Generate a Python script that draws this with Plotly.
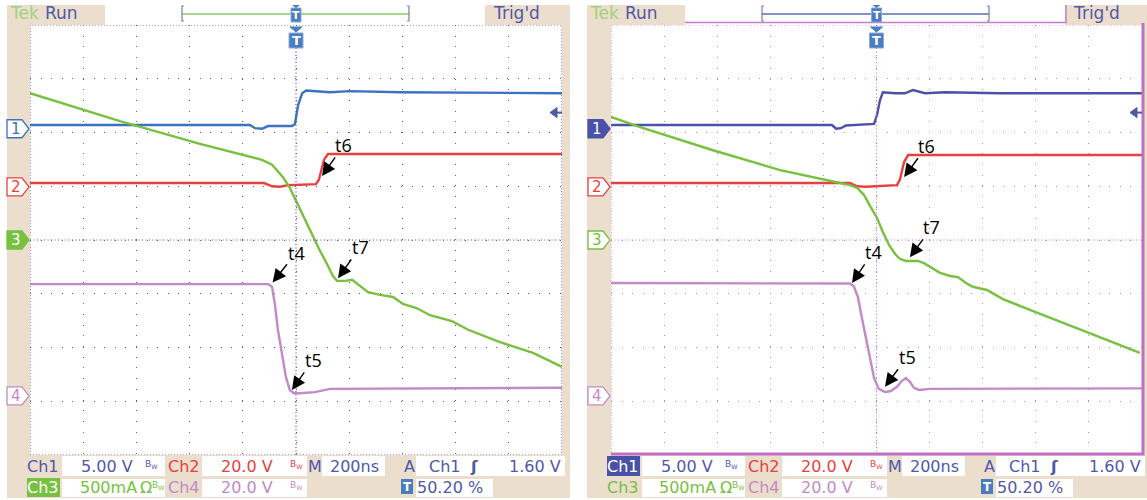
import plotly.graph_objects as go

W, H = 1147, 500

# ---------------- data (time in ns, 200 ns/div; vertical in screen divisions) -------------
# Left capture
L_ch1_t = [-1000, -173, -154, -128, -105, -15, -4, 8, 23, 38, 128, 203, 391, 579, 1000]
L_ch1_v = [2.14, 2.14, 2.08, 2.07, 2.12, 2.12, 2.16, 2.51, 2.73, 2.78, 2.75, 2.77, 2.75, 2.74, 2.73]
L_ch2_t = [-1000, -120, -90, -60, -30, 15, 75, 86, 105, 120, 1000]
L_ch2_v = [1.06, 1.06, 1.00, 0.99, 1.02, 1.03, 1.04, 1.12, 1.49, 1.60, 1.60]
L_ch3_t = [-1000, -662, -361, -173, -128, -90, -49, -23, 4, 34, 64, 90, 117, 139, 154, 184, 211,
           241, 271, 316, 365, 402, 455, 504, 541, 586, 647, 767, 891, 1000]
L_ch3_v = [2.73, 2.21, 1.79, 1.54, 1.49, 1.40, 1.17, 0.97, 0.69, 0.37, 0.06, -0.20, -0.45, -0.67,
           -0.76, -0.76, -0.74, -0.86, -0.97, -1.02, -1.06, -1.19, -1.27, -1.40, -1.45, -1.51,
           -1.67, -1.90, -2.10, -2.36]
L_ch4_t = [-1000, -105, -90, -79, -68, -53, -38, -23, -8, 15, 71, 128, 1000]
L_ch4_v = [-0.82, -0.82, -0.87, -1.21, -1.67, -2.10, -2.55, -2.79, -2.85, -2.85, -2.83, -2.77, -2.75]

# Right capture
R_ch1_t = [-1000, -168, -152, -134, -115, -9, 2, 13, 24, 70, 107, 137, 183, 258, 465, 1000]
R_ch1_v = [2.14, 2.14, 2.07, 2.08, 2.13, 2.16, 2.33, 2.60, 2.75, 2.73, 2.73, 2.79, 2.73, 2.75, 2.73, 2.73]
R_ch2_t = [-1000, -100, -73, -40, -6, 77, 88, 104, 119, 1000]
R_ch2_v = [1.06, 1.06, 1.00, 0.99, 1.00, 1.02, 1.12, 1.45, 1.58, 1.58]
R_ch3_t = [-1000, -890, -616, -363, -137, -100, -73, -47, -24, 2, 24, 47, 70, 88, 111, 156, 179,
           201, 239, 277, 307, 337, 363, 416, 476, 578, 702, 830, 992]
R_ch3_v = [2.29, 2.10, 1.67, 1.30, 1.06, 1.02, 0.97, 0.84, 0.63, 0.41, 0.15, -0.09, -0.26, -0.35,
           -0.39, -0.39, -0.43, -0.50, -0.61, -0.67, -0.69, -0.80, -0.87, -0.93, -1.10, -1.30,
           -1.54, -1.80, -2.10]
R_ch4_t = [-1000, -100, -85, -70, -55, -40, -24, -9, 9, 32, 54, 77, 96, 111, 126, 141, 160, 201, 1000]
R_ch4_v = [-0.80, -0.81, -0.86, -1.06, -1.45, -1.82, -2.23, -2.57, -2.77, -2.83, -2.81, -2.73,
           -2.62, -2.57, -2.64, -2.75, -2.79, -2.77, -2.76]

# channel ground markers (divisions) and trigger level
marker_levels = {"1": 2.07, "2": 0.99, "3": 0.0, "4": -2.9}
trig_level = 2.37

# event labels: (label, text_t, text_v, head_t, head_v)
L_events = [("t4", 0, -0.24, -88, -0.79), ("t5", 64, -2.23, -15, -2.79),
            ("t6", 180, 1.77, 98, 1.19), ("t7", 241, -0.13, 158, -0.71)]
R_events = [("t4", -13, -0.22, -92, -0.80), ("t5", 115, -2.18, 32, -2.73),
            ("t6", 190, 1.75, 104, 1.17), ("t7", 209, 0.24, 126, -0.32)]

# readout texts
row1 = ["Ch1", "5.00 V", "Ch2", "20.0 V", "M", "200ns", "A", "Ch1", "1.60 V"]
row2 = ["Ch3", "500mA", "Ch4", "20.0 V", "50.20 %"]

# ---------------- styling ----------------
BEIGE = "#ecdecd"
TXT_BLUE = "#5058a8"
C_RED = "#e8403f"
C_GREEN = "#78c040"
C_PURPLE = "#c28ac6"
C_BLUE_L = "#3d72c0"
C_BLUE_R = "#4a52a8"
TBLUE = "#4a7cc0"
FONT = "DejaVu Sans"
YD0, YD1 = 1 - 455 / H, 1 - 25 / H


def PX(x):
    return x / W


def PY(y):
    return 1 - y / H


def ydom(v):
    return YD0 + (v + 4) / 8 * (YD1 - YD0)


fig = go.Figure()

panels = [
    dict(dx=0, xa="x", ya="y", xl=30, xr=562, grid="#5656b0", c1=C_BLUE_L,
         data=[(L_ch1_t, L_ch1_v), (L_ch2_t, L_ch2_v), (L_ch3_t, L_ch3_v), (L_ch4_t, L_ch4_v)],
         events=L_events, sel="3", hdrline="#a8d88a", beige=(7, 570)),
    dict(dx=580, xa="x2", ya="y2", xl=611, xr=1142, grid="#c47cc8", c1=C_BLUE_R,
         data=[(R_ch1_t, R_ch1_v), (R_ch2_t, R_ch2_v), (R_ch3_t, R_ch3_v), (R_ch4_t, R_ch4_v)],
         events=R_events, sel="1", hdrline="#8492c8", beige=(587, 1147)),
]

shapes = []
annos = []

for p in panels:
    dx = p["dx"]
    xa, ya = p["xa"], p["ya"]
    colors = [p["c1"], C_RED, C_GREEN, C_PURPLE]
    # backgrounds
    shapes.append(dict(type="rect", xref="paper", yref="paper", x0=PX(p["beige"][0]), x1=PX(p["beige"][1]),
                       y0=PY(498), y1=PY(5), fillcolor=BEIGE, line_width=0, layer="below"))
    shapes.append(dict(type="rect", xref="paper", yref="paper", x0=PX(p["xl"]), x1=PX(p["xr"]),
                       y0=PY(455), y1=PY(25), fillcolor="white", line_width=0, layer="below"))
    # header box
    shapes.append(dict(type="rect", xref="paper", yref="paper", x0=PX(105 + dx), x1=PX(485 + dx),
                       y0=PY(25), y1=PY(5), fillcolor="white", line_width=0, layer="below"))
    if dx:
        shapes.append(dict(type="path", xref="paper", yref="paper",
                           path=f"M {PX(105+dx)},{PY(22.5)} L {PX(486+dx)},{PY(22.5)} L {PX(486+dx)},{PY(5)}",
                           line=dict(color="#c080c8", width=1.5), layer="below"))
    # bracket line
    shapes.append(dict(type="line", xref="paper", yref="paper", x0=PX(182 + dx), x1=PX(409 + dx),
                       y0=PY(14), y1=PY(14), line=dict(color=p["hdrline"], width=2)))
    for bx, sgn in ((182 + dx, 1), (409 + dx, -1)):
        shapes.append(dict(type="path", xref="paper", yref="paper",
                           path=f"M {PX(bx+2*sgn)},{PY(6)} L {PX(bx)},{PY(6)} L {PX(bx)},{PY(21)} L {PX(bx+2*sgn)},{PY(21)}",
                           line=dict(color="#7080b8", width=1.2)))
    # readout boxes
    for (a, b, y0, y1) in [(62, 165, 456, 476), (202, 307, 456, 476), (322, 385, 456, 476), (416, 565, 456, 476),
                           (62, 165, 479, 497), (202, 307, 479, 497), (416, 493, 479, 497)]:
        shapes.append(dict(type="rect", xref="paper", yref="paper", x0=PX(a + dx), x1=PX(b + dx),
                           y0=PY(y1), y1=PY(y0), fillcolor="white", line_width=0, layer="below"))
    # graticule border & center lines
    g = p["grid"]
    if dx == 0:
        shapes.append(dict(type="rect", xref=xa, yref=ya, x0=-1000, x1=1000, y0=-4, y1=4,
                           line=dict(color=g, width=1.2, dash="1px,2px")))
    else:
        shapes.append(dict(type="path", xref=xa, yref=ya, path="M -1000,-4 L -1000,4 L 1000,4",
                           line=dict(color=g, width=1.2, dash="1px,2px")))
        shapes.append(dict(type="path", xref="paper", yref="paper",
                           path=f"M {PX(611)},{PY(454)} L {PX(1143)},{PY(454)} L {PX(1143)},{PY(23)}",
                           line=dict(color="#c070c4", width=3)))
    shapes.append(dict(type="line", xref=xa, yref=ya, x0=0, x1=0, y0=-4, y1=4,
                       line=dict(color=g, width=1.2, dash="1px,2.5px")))
    shapes.append(dict(type="line", xref=xa, yref=ya, x0=-1000, x1=1000, y0=0, y1=0,
                       line=dict(color=g, width=1.2, dash="1px,2.5px")))

    # traces
    for (tt, vv), c in zip(p["data"], colors):
        fig.add_trace(go.Scatter(x=tt, y=vv, mode="lines", xaxis=xa, yaxis=ya,
                                 line=dict(color=c, width=2.4), hoverinfo="skip", showlegend=False))

    # channel markers
    for (name, lvl), c in zip(marker_levels.items(), colors):
        filled = (name == p["sel"])
        shapes.append(dict(type="path", xref="paper", yref="paper", xsizemode="pixel", ysizemode="pixel",
                           xanchor=PX(p["xl"]), yanchor=ydom(lvl),
                           path="M -23,9 L -8,9 L -1,0 L -8,-9 L -23,-9 Z",
                           fillcolor=c if filled else "white", line=dict(color=c, width=1.3)))
        annos.append(dict(xref="paper", yref="paper", x=PX(p["xl"]), y=ydom(lvl), xshift=-14,
                          xanchor="center", yanchor="middle", text=name, showarrow=False,
                          font=dict(family=FONT, size=15, color="white" if filled else c)))

    # trigger level arrow (right edge)
    shapes.append(dict(type="path", xref="paper", yref="paper", xsizemode="pixel", ysizemode="pixel",
                       xanchor=PX(p["xr"]), yanchor=ydom(trig_level), path="M -12,0 L -5,5 L -5,-5 Z",
                       fillcolor=TXT_BLUE, line=dict(color=TXT_BLUE, width=1)))
    shapes.append(dict(type="line", xref="paper", yref="paper", xsizemode="pixel", ysizemode="pixel",
                       xanchor=PX(p["xr"]), yanchor=ydom(trig_level), x0=-5, x1=0, y0=0, y1=0,
                       line=dict(color=TXT_BLUE, width=2)))

    # trigger position "T" markers (plot top and header)
    shapes.append(dict(type="path", xref=xa, yref="paper", xsizemode="pixel", ysizemode="pixel",
                       xanchor=0, yanchor=PY(25), path="M -6,-2 L 6,-2 L 0,-7 Z",
                       fillcolor=TBLUE, line=dict(color=TBLUE, width=1)))
    shapes.append(dict(type="rect", xref=xa, yref="paper", xsizemode="pixel", ysizemode="pixel",
                       xanchor=0, yanchor=PY(25), x0=-7, x1=7, y0=-8, y1=-23,
                       fillcolor=TBLUE, line=dict(color="#8aaadc", width=1)))
    annos.append(dict(xref=xa, yref="paper", x=0, y=PY(40.5), xanchor="center", yanchor="middle",
                      text="<b>T</b>", showarrow=False, font=dict(family=FONT, size=13, color="white")))
    shapes.append(dict(type="rect", xref=xa, yref="paper", xsizemode="pixel", xanchor=0,
                       x0=-5, x1=5, y0=PY(22), y1=PY(8), fillcolor=TBLUE, line=dict(color="#8aaadc", width=1)))
    shapes.append(dict(type="path", xref=xa, yref="paper", xsizemode="pixel", xanchor=0,
                       path=f"M -4,{PY(5)} L 4,{PY(5)} L 0,{PY(8)} Z", fillcolor=TBLUE, line_width=0))
    annos.append(dict(xref=xa, yref="paper", x=0, y=PY(15), xanchor="center", yanchor="middle",
                      text="<b>T</b>", showarrow=False, font=dict(family=FONT, size=11, color="white")))

    # event annotations
    for lab, tx, ty, hx, hy in p["events"]:
        annos.append(dict(xref=xa, yref=ya, x=hx, y=hy, axref=xa, ayref=ya, ax=tx, ay=ty,
                          text=lab, showarrow=True, arrowhead=2, arrowsize=1.9, arrowwidth=1.4,
                          borderpad=0, arrowcolor="black",
                          font=dict(family="Open Sans", size=18, color="black")))

    # header / readout texts
    def txt(x, y, s, color, size=16, **kw):
        d = dict(xref="paper", yref="paper", x=PX(x + dx), y=PY(y), text=s, showarrow=False,
                 font=dict(family=FONT, size=size, color=color), xanchor="center", yanchor="middle")
        d.update(kw)
        annos.append(d)

    txt(24, 13, "Tek", "#a0d27e", 17)
    txt(61, 13, "Run", TXT_BLUE, 17)
    txt(516, 13, "Trig'd", TXT_BLUE, 17)

    # readouts row 1
    if p["sel"] == "1":
        shapes.append(dict(type="rect", xref="paper", yref="paper", x0=PX(27 + dx), x1=PX(60 + dx),
                           y0=PY(476), y1=PY(456), fillcolor=C_BLUE_R, line_width=0))
        txt(43, 466, row1[0], "white")
    else:
        txt(43, 466, row1[0], TXT_BLUE)
    txt(107, 466, row1[1], TXT_BLUE)
    txt(151, 464, "B<sub>W</sub>", TXT_BLUE, 9)
    txt(184, 466, row1[2], C_RED)
    txt(247, 466, row1[3], C_RED)
    txt(296, 464, "B<sub>W</sub>", C_RED, 9)
    txt(315, 466, row1[4], TXT_BLUE)
    txt(354, 466, row1[5], TXT_BLUE)
    txt(409, 466, row1[6], TXT_BLUE)
    txt(445, 466, row1[7], TXT_BLUE)
    txt(474, 466, "<b>ʃ</b>", TXT_BLUE, 16)
    txt(535, 466, row1[8], TXT_BLUE)
    # readouts row 2
    if p["sel"] == "3":
        shapes.append(dict(type="rect", xref="paper", yref="paper", x0=PX(27 + dx), x1=PX(60 + dx),
                           y0=PY(497), y1=PY(478), fillcolor=C_GREEN, line_width=0))
        txt(43, 487, row2[0], "white")
    else:
        txt(43, 487, row2[0], C_GREEN)
    txt(108, 487, row2[1], C_GREEN)
    txt(146, 487, "Ω", C_GREEN)
    txt(158, 485, "B<sub>W</sub>", C_GREEN, 9)
    txt(184, 487, row2[2], C_PURPLE)
    txt(247, 487, row2[3], C_PURPLE)
    txt(296, 485, "B<sub>W</sub>", C_PURPLE, 9)
    shapes.append(dict(type="rect", xref="paper", yref="paper", x0=PX(401 + dx), x1=PX(413 + dx),
                       y0=PY(494), y1=PY(479), fillcolor=TBLUE, line_width=0))
    txt(407, 487, "<b>T</b>", "white", 12)
    txt(450, 487, row2[4], TXT_BLUE)

axis_common = dict(range=[-1000, 1000], showticklabels=False, showgrid=True, dtick=200, tick0=0,
                   zeroline=False, showline=False, ticks="", fixedrange=True)
yaxis_common = dict(range=[-4, 4], showticklabels=False, showgrid=True, dtick=1, tick0=0,
                    zeroline=False, showline=False, ticks="", fixedrange=True)

fig.update_layout(
    width=W, height=H, margin=dict(l=0, r=0, t=0, b=0),
    paper_bgcolor="white", plot_bgcolor="rgba(0,0,0,0)",
    xaxis=dict(domain=[30 / W, 562 / W], anchor="y", gridcolor=panels[0]["grid"],
               griddash="1px,9.7px", **axis_common),
    yaxis=dict(domain=[YD0, YD1], anchor="x", gridcolor=panels[0]["grid"],
               griddash="1px,9.6px", **yaxis_common),
    xaxis2=dict(domain=[611 / W, 1142 / W], anchor="y2", gridcolor=panels[1]["grid"],
                griddash="1px,9.7px", **axis_common),
    yaxis2=dict(domain=[YD0, YD1], anchor="x2", gridcolor=panels[1]["grid"],
                griddash="1px,9.6px", **yaxis_common),
    shapes=shapes, annotations=annos, showlegend=False,
)

fig.write_html("out.html", config={"displayModeBar": False},
               post_script="document.body.style.margin='0';")
